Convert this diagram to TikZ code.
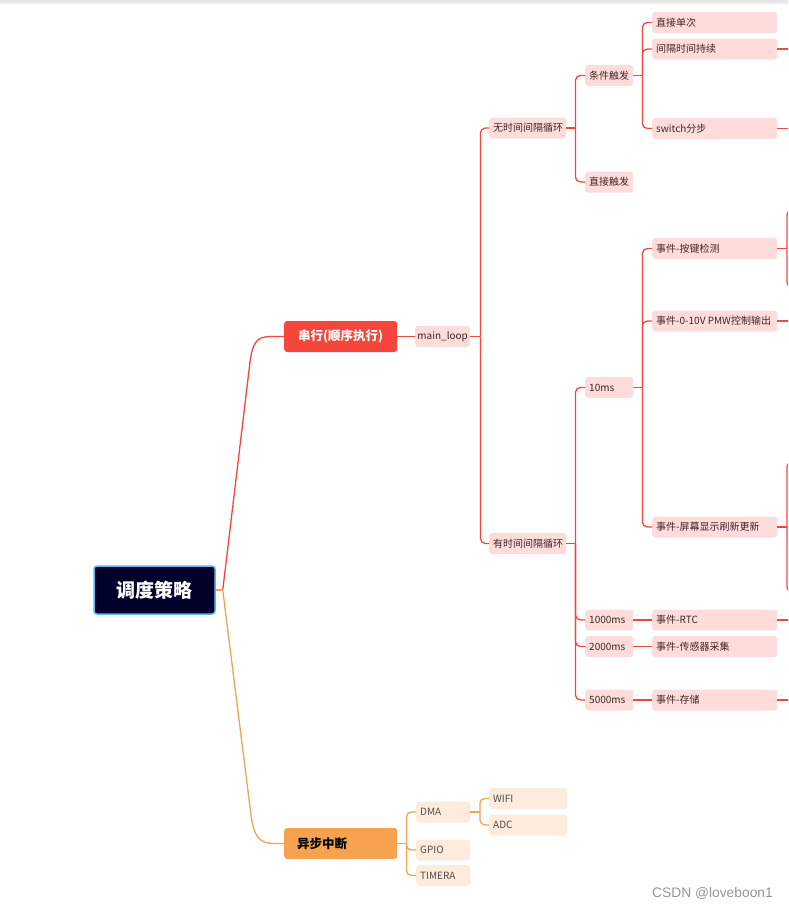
\documentclass[tikz,border=0pt]{standalone}
\usepackage{fontspec}
\setmainfont{Noto Sans CJK SC}
\newfontfamily\wmfont{Liberation Sans}
\newcommand\lbx[2]{\makebox[#1][l]{#2}}
\definecolor{redl}{HTML}{F5463C}
\definecolor{pinkfill}{HTML}{FFDCDC}
\definecolor{pinktext}{HTML}{3F2626}
\definecolor{orl}{HTML}{F6A24E}
\definecolor{orfill}{HTML}{FDEBDC}
\definecolor{ortext}{HTML}{554B4B}
\definecolor{rootfill}{HTML}{000028}
\definecolor{rootborder}{HTML}{5AB9F0}
\definecolor{topbar}{HTML}{E6E6E6}
\begin{document}
\begin{tikzpicture}[x=1pt,y=-1pt,
  rootbox/.style={rectangle, rounded corners=3pt, fill=rootfill, draw=rootborder, line width=1.5pt,
    minimum width=121pt, minimum height=48pt, text=white, font=\bfseries\fontsize{19}{20}\selectfont},
  serbox/.style={rectangle, rounded corners=3pt, fill=redl, text=white, anchor=west,
    minimum width=113pt, minimum height=31pt, inner sep=0pt, font=\bfseries\fontsize{12.5}{13}\selectfont},
  asybox/.style={rectangle, rounded corners=3pt, fill=orl, text=black, anchor=west,
    inner xsep=13pt, minimum height=31pt, inner ysep=0pt, font=\bfseries\fontsize{12.5}{13}\selectfont},
  pk/.style={rectangle, rounded corners=3pt, fill=pinkfill, text=pinktext, anchor=west,
    inner xsep=4pt, inner ysep=0pt, minimum height=21pt, font=\fontsize{10}{10}\selectfont},
  ob/.style={rectangle, rounded corners=3pt, fill=orfill, text=ortext, anchor=west,
    inner xsep=4pt, inner ysep=0pt, minimum height=21pt, font=\fontsize{10}{10}\selectfont},
  rl/.style={draw=redl, line width=1.3pt},
  ol/.style={draw=orl, line width=1.3pt},
  rc/.style={rounded corners=5pt}
]
\useasboundingbox (0,0) rectangle (788,908);
\clip (0,0) rectangle (788,908);
\fill[topbar] (0,0) rectangle (788,3);
\fill[topbar!40] (0,3) rectangle (788,4.5);

% nodes
\node[rootbox] (root) at (154.5,590) {调度策略};
\node[serbox] (ser) at (284,336.5) {串行(顺序执行)};
\node[asybox] (asy) at (284,843.5) {\lbx{87pt}{异步中断}};

\node[pk] (ml) at (415,336.5) {\makebox[47pt][c]{main\_loop}};
\node[pk] (wu) at (489,128) {\lbx{69pt}{无时间间隔循环}};
\node[pk] (you) at (489,543.5) {\lbx{69pt}{有时间间隔循环}};
\node[pk] (tj) at (585,75.5) {\lbx{40pt}{条件触发}};
\node[pk] (zj) at (585,182) {\lbx{40pt}{直接触发}};
\node[pk] (zd) at (652,22.5) {\lbx{117pt}{直接单次}};
\node[pk] (jg) at (652,49) {\lbx{117pt}{间隔时间持续}};
\node[pk] (sw) at (652,128.5) {\lbx{117pt}{switch分步}};
\node[pk] (t10) at (585,387.5) {\lbx{40pt}{10ms}};
\node[pk] (t1000) at (585,620) {\lbx{40pt}{1000ms}};
\node[pk] (t2000) at (585,646.5) {\lbx{40pt}{2000ms}};
\node[pk] (t5000) at (585,700) {\lbx{40pt}{5000ms}};
\node[pk] (ea) at (652,248.5) {\lbx{117pt}{事件-按键检测}};
\node[pk] (eb) at (652,321) {\lbx{117pt}{事件-0-10V PMW控制输出}};
\node[pk] (ec) at (652,527) {\lbx{117pt}{事件-屏幕显示刷新更新}};
\node[pk] (ed) at (652,620) {\lbx{117pt}{事件-RTC}};
\node[pk] (ee) at (652,646.5) {\lbx{117pt}{事件-传感器采集}};
\node[pk] (ef) at (652,700) {\lbx{117pt}{事件-存储}};

\node[ob] (dma) at (416,812) {\lbx{46pt}{DMA}};
\node[ob] (gpio) at (416,850) {\lbx{46pt}{GPIO}};
\node[ob] (tim) at (416,875.5) {\lbx{46pt}{TIMERA}};
\node[ob] (wifi) at (489,798.5) {\lbx{70pt}{WIFI}};
\node[ob] (adc) at (489,825) {\lbx{70pt}{ADC}};

\node[anchor=east, inner sep=0pt, text=black!42, font=\wmfont\fontsize{13.8}{14}\selectfont] (wm) at (773,893) {CSDN @loveboon1};

% root connectors
\path (root.east) ++(7,0) coordinate (rj);
\draw[rl] (rj) -- (250,362) .. controls (253,340) and (258,336.5) .. (272,336.5) -- (ser.west);
\draw[ol] (root.east) -- (rj);
\draw[ol] (rj) -- (251,815) .. controls (254,838) and (260,843.5) .. (275,843.5) -- (asy.west);

% red tree
\draw[rl] (ser.east) -- (ml.west);
\draw[rl] (ml.east) -- ++(10,0) coordinate (j1);
\draw[rl,rc] (j1) |- (wu.west);
\draw[rl,rc] (j1) |- (you.west);

\draw[rl] (wu.east) -- ++(9,0) coordinate (j2);
\draw[rl,rc] (j2) |- (tj.west);
\draw[rl,rc] (j2) |- (zj.west);

\draw[rl] (tj.east) -- ++(9,0) coordinate (j3);
\draw[rl,rc] (j3) |- (zd.west);
\draw[rl,rc] (j3) |- (jg.west);
\draw[rl,rc] (j3) |- (sw.west);

\draw[rl] (you.east) -- ++(9,0) coordinate (j4);
\draw[rl,rc] (j4) |- (t10.west);
\draw[rl,rc] (j4) |- (t1000.west);
\draw[rl,rc] (j4) |- (t2000.west);
\draw[rl,rc] (j4) |- (t5000.west);

\draw[rl] (t10.east) -- ++(9,0) coordinate (j5);
\draw[rl,rc] (j5) |- (ea.west);
\draw[rl,rc] (j5) |- (eb.west);
\draw[rl,rc] (j5) |- (ec.west);

\draw[rl] (t1000.east) -- (ed.west);
\draw[rl] (t2000.east) -- (ee.west);
\draw[rl] (t5000.east) -- (ef.west);

% stubs leaving the picture on the right
\draw[rl] (jg.east) -- ++(20,0);
\draw[rl] (sw.east) -- ++(20,0);
\draw[rl] (eb.east) -- ++(20,0);
\draw[rl] (ed.east) -- ++(20,0);
\draw[rl] (ef.east) -- ++(20,0);
\draw[rl] (ea.east) -- ++(9.5,0) coordinate (k1);
\draw[rl,rc] (k1) |- ++(12,-38.5);
\draw[rl,rc] (k1) |- ++(12,38.5);
\draw[rl] (ec.east) -- ++(9.5,0) coordinate (k2);
\draw[rl,rc] (k2) |- ++(12,-65);
\draw[rl,rc] (k2) |- ++(12,65);

% orange tree
\draw[ol] (asy.east) -- ++(9,0) coordinate (o1);
\draw[ol,rc] (o1) |- (dma.west);
\draw[ol,rc] (o1) |- (gpio.west);
\draw[ol,rc] (o1) |- (tim.west);
\draw[ol] (dma.east) -- ++(9.5,0) coordinate (o2);
\draw[ol,rc] (o2) |- (wifi.west);
\draw[ol,rc] (o2) |- (adc.west);
\end{tikzpicture}
\end{document}
